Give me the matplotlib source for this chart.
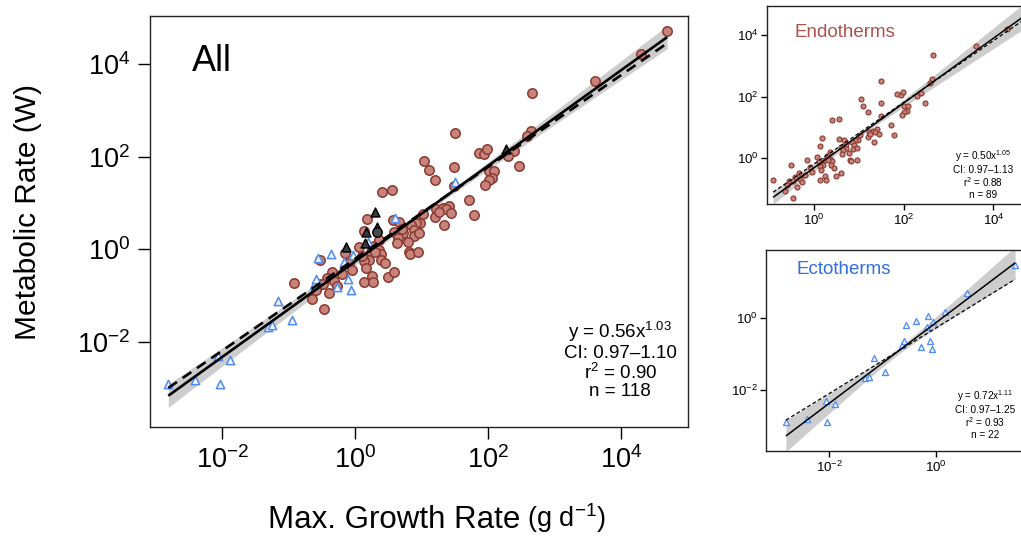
import numpy as np
import matplotlib
matplotlib.use("Agg")
import matplotlib.pyplot as plt

plt.rcParams['font.family'] = ['Liberation Sans', 'DejaVu Sans']
plt.rcParams['mathtext.fontset'] = 'custom'
plt.rcParams['mathtext.rm'] = 'Liberation Sans'
plt.rcParams['mathtext.it'] = 'Liberation Sans:italic'
plt.rcParams['mathtext.bf'] = 'Liberation Sans:bold'
plt.rcParams['mathtext.default'] = 'regular'

# ---------------- data (log10 values) ----------------
endo_log_growth = [4.687, 4.296, 3.599, 2.659, 2.633, 2.583, 1.490, 2.379, 2.298, 1.851,
                   1.937, 1.978, 2.461, 1.037, 1.098, 1.479, 1.200, 2.008, 2.084, 2.059,
                   2.008, 1.947, 1.479, 0.397, 0.549, 1.703, 1.779, 1.215, 1.312, 1.403,
                   1.357, 1.439, 1.195, 1.337, 1.022, 0.966, 0.910, 0.839, 0.880, 0.874,
                   0.783, 0.798, 0.813, 0.946, 0.559, 0.661, 0.585, 0.712, 0.646, 0.178,
                   0.122, 0.275, 0.346, 0.386, 0.381, 0.239, 0.203, 0.132, 0.102, 0.153,
                   -0.153, -0.092, -0.529, -0.203, -0.351, -0.422, -0.325, -0.554, -0.483, -0.600,
                   -0.280, -0.397, -0.651, -0.478, -0.920, 0.127, 0.244, 0.259, 0.493, 0.585,
                   0.300, 0.450, 0.050, 0.620, 0.950, 0.700, -0.050, 0.360, 1.250]
endo_log_metab = [4.710, 4.206, 3.631, 3.366, 2.561, 2.453, 2.518, 2.130, 2.015, 2.087,
                  2.051, 2.166, 1.800, 1.915, 1.713, 1.785, 1.498, 1.692, 1.692, 1.534,
                  1.498, 1.397, 1.376, 1.232, 1.290, 1.067, 0.751, 0.866, 0.902, 0.945,
                  0.866, 0.787, 0.693, 0.521, 0.758, 0.578, 0.578, 0.528, 0.420, 0.291,
                  0.169, -0.047, -0.104, -0.061, 0.636, 0.600, 0.370, 0.348, 0.255, 0.657,
                  0.399, 0.083, -0.011, -0.097, -0.226, -0.061, -0.226, -0.248, -0.133, -0.392,
                  -0.068, -0.284, -0.219, -0.535, -0.485, -0.621, -0.672, -0.744, -0.751, -0.880,
                  -0.779, -0.945, -1.073, -1.282, -0.715, -0.693, -0.571, -0.708, -0.585, -0.478,
                  -0.050, -0.300, 0.050, 0.150, 0.350, 0.450, -0.450, 0.200, 0.800]

ecto_log_growth = [-2.815, -2.414, -2.063, -2.044, -1.893, -1.323, -1.248, -1.166, -0.953, -0.627,
                   -0.589, -0.564, -0.364, -0.282, -0.169, -0.144, -0.107, -0.063, -0.044, 0.182,
                   0.596, 1.492]
ecto_log_metab = [-2.894, -2.802, -2.295, -2.894, -2.378, -1.677, -1.631, -1.115, -1.512, -0.765,
                  -0.636, -0.194, -0.092, -0.802, -0.267, 0.046, -0.645, -0.876, -0.111, 0.166,
                  0.673, 1.456]

other_log_growth = [-0.137, 0.142, 0.158, 0.290, 0.330, 0.320, 2.267]
other_log_metab = [0.061, 0.147, 0.377, 0.815, 0.492, 0.370, 2.159]
other_markers = ['^', '^', '^', '^', '^', 'o', '^']

# fits: (coefficient, exponent, CI low, CI high, r2, n)
fit_all = (0.56, 1.03, 0.97, 1.10, 0.90, 118)
fit_endo = (0.50, 1.05, 0.97, 1.13, 0.88, 89)
fit_ecto = (0.72, 1.11, 0.97, 1.25, 0.93, 22)
# dashed reference lines: (log10 intercept, slope)
ref_all = (-0.197, 0.990)
ref_endo = (-0.180, 1.000)
ref_ecto = (-0.287, 0.903)
# confidence band half-width (log10): (min width, growth per decade, centre log10 x)
band_all = (0.05, 0.065, 0.95)
band_endo = (0.06, 0.11, 1.00)
band_ecto = (0.09, 0.20, -0.70)

ENDO_FACE, ENDO_EDGE = '#c8847b', '#8a3a31'
ECTO_FACE, ECTO_EDGE = '#eef3fd', '#4f8cf2'

W, H = 1021, 539
fig = plt.figure(figsize=(W / 100, H / 100), dpi=100)


def add_ax(left, top, right, bottom):
    return fig.add_axes([left / W, 1 - bottom / H, (right - left) / W, (bottom - top) / H])


def draw_fit(ax, lx_all, fit, ref, band, lw, dash_lw, dashes):
    lx = np.linspace(min(lx_all), max(lx_all), 300)
    a, b = fit[0], fit[1]
    ly = np.log10(a) + b * lx
    h0, k, c = band
    hw = np.sqrt(h0 ** 2 + (k * (lx - c)) ** 2)
    ax.fill_between(10 ** lx, 10 ** (ly - hw), 10 ** (ly + hw), color='#cdcdcd', lw=0, zorder=1)
    ax.plot(10 ** lx, 10 ** ly, color='black', lw=lw, zorder=5, solid_capstyle='butt')
    ly2 = ref[0] + ref[1] * lx
    ax.plot(10 ** lx, 10 ** ly2, color='black', lw=dash_lw, zorder=5, dashes=dashes)


def stats_text(fit):
    a, b, lo, hi, r2, n = fit
    return (f"y = {a:.2f}x$^{{{b:.2f}}}$\nCI: {lo:.2f}\u2013{hi:.2f}\n"
            f"r$^{{2}}$ = {r2:.2f}\nn = {n}")


def style(ax, xl, yl, xt, yt, labelsize, length, pad):
    ax.set_xscale('log')
    ax.set_yscale('log')
    ax.set_xlim(10 ** xl[0], 10 ** xl[1])
    ax.set_ylim(10 ** yl[0], 10 ** yl[1])
    ax.set_xticks([10.0 ** t for t in xt])
    ax.set_yticks([10.0 ** t for t in yt])
    ax.minorticks_off()
    ax.tick_params(direction='out', length=length, width=1, pad=pad, labelsize=labelsize)
    for s in ax.spines.values():
        s.set_linewidth(1.0)
        s.set_color('#222222')


# ---------------- main panel ----------------
ax = add_ax(150, 16, 688, 427)
style(ax, (-3.09, 5.0), (-3.825, 5.03), [-2, 0, 2, 4], [-2, 0, 2, 4], 19.5, 8.5, 5.5)
all_lx = endo_log_growth + ecto_log_growth + other_log_growth
draw_fit(ax, all_lx, fit_all, ref_all, band_all, 1.9, 1.9, (4, 2.6))
ax.scatter(10 ** np.array(endo_log_growth), 10 ** np.array(endo_log_metab), s=46,
           facecolor=ENDO_FACE, edgecolor=ENDO_EDGE, linewidths=1.1, zorder=3)
ax.scatter(10 ** np.array(ecto_log_growth), 10 ** np.array(ecto_log_metab), s=36, marker='^',
           facecolor=ECTO_FACE, edgecolor=ECTO_EDGE, linewidths=1.1, zorder=3)
for gx, gy, m in zip(other_log_growth, other_log_metab, other_markers):
    ax.scatter([10 ** gx], [10 ** gy], s=42 if m == '^' else 46, marker=m,
               facecolor='#3a3a3a' if m == '^' else '#4a4a4a', edgecolor='black',
               linewidths=1.0, zorder=4)
ax.text(0.078, 0.866, "All", transform=ax.transAxes, fontsize=26, ha='left', va='baseline')
ax.text(0.874, 0.163, stats_text(fit_all), transform=ax.transAxes, fontsize=13.5,
        ha='center', va='center', ma='center', linespacing=1.05, zorder=6)

fig.text(28 / W, 1 - 212 / H, "Metabolic Rate (W)", rotation=90, fontsize=21.5,
         ha='center', va='center')
t1 = fig.text(268 / W, 1 - 528 / H, "Max. Growth Rate", fontsize=22.5, ha='left', va='baseline')
ax.annotate("(g d$^{-1}$)", xy=(1, 0), xycoords=t1, xytext=(5, 0), textcoords='offset points',
            fontsize=19.5, ha='left', va='bottom', annotation_clip=False)

# ---------------- endotherm inset ----------------
ae = add_ax(767, 5.5, 1030, 204)
style(ae, (-1.056, 4.815), (-1.484, 4.961), [0, 2, 4], [0, 2, 4], 9.5, 4, 2)
draw_fit(ae, endo_log_growth, fit_endo, ref_endo, band_endo, 1.1, 0.9, (3, 2))
ae.scatter(10 ** np.array(endo_log_growth), 10 ** np.array(endo_log_metab), s=13,
           facecolor=ENDO_FACE, edgecolor=ENDO_EDGE, linewidths=0.8, zorder=3)
ae.text(0.106, 0.84, "Endotherms", transform=ae.transAxes, fontsize=13.5, color='#b0524c',
        ha='left', va='baseline')
ae.text(0.822, 0.151, stats_text(fit_endo), transform=ae.transAxes, fontsize=7.2,
        ha='center', va='center', ma='center', linespacing=1.05, zorder=6)

# ---------------- ectotherm inset ----------------
ac = add_ax(766, 250, 1030, 451)
style(ac, (-3.19, 1.773), (-3.682, 1.870), [-2, 0], [-2, 0], 9.5, 4, 2)
draw_fit(ac, ecto_log_growth, fit_ecto, ref_ecto, band_ecto, 1.1, 0.9, (3, 2))
ac.scatter(10 ** np.array(ecto_log_growth), 10 ** np.array(ecto_log_metab), s=19, marker='^',
           facecolor=ECTO_FACE, edgecolor=ECTO_EDGE, linewidths=0.9, zorder=3)
ac.text(0.114, 0.88, "Ectotherms", transform=ac.transAxes, fontsize=13.5, color='#2f6fdf',
        ha='left', va='baseline')
ac.text(0.83, 0.184, stats_text(fit_ecto), transform=ac.transAxes, fontsize=7.2,
        ha='center', va='center', ma='center', linespacing=1.05, zorder=6)

fig.savefig("out.png", dpi=100)
